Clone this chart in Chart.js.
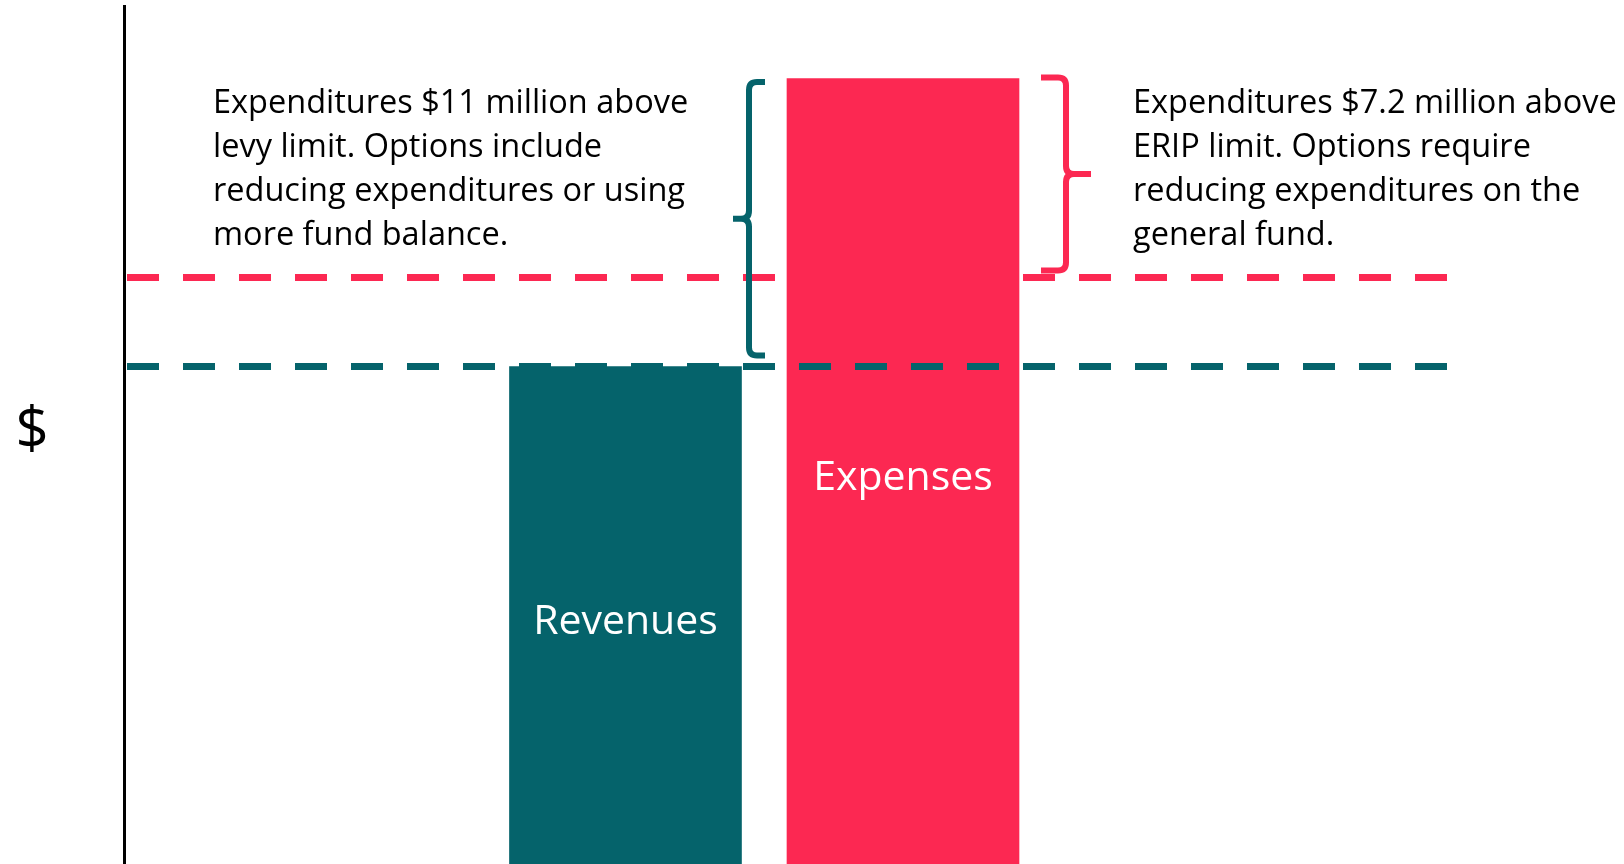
<!DOCTYPE html>
<html>
<head>
<meta charset="utf-8">
<script src="https://cdn.jsdelivr.net/npm/chart.js@4.4.1/dist/chart.umd.min.js"></script>
<style>
  html, body { margin: 0; padding: 0; background: #fff; }
  canvas { display: block; }
</style>
</head>
<body>
<canvas id="budgetChart" width="1624" height="864"></canvas>
<script>
// values in $ millions (schematic)
const categories = ["Revenues", "Expenses"];
const amounts = [19, 30];
const levyLimit = 19;
const eripLimit = 22.4;

const leftNote = [
  "Expenditures $11 million above",
  "levy limit. Options include",
  "reducing expenditures or using",
  "more fund balance.",
];
const rightNote = [
  "Expenditures $7.2 million above",
  "ERIP limit. Options require",
  "reducing expenditures on the",
  "general fund.",
];

const TEAL = "#05636B";
const RED = "#FC2852";
const FONT = '"Open Sans", "DejaVu Sans", sans-serif';

// x positions of the two bars on a plain linear axis
const positions = categories.map((c, i) => i + 1);
const xMin = -0.807;
const xMax = 4.598;
const limitEnd = 3.962;

function drawBrace(ctx, stemX, top, bottom, dir, arm, color) {
  // dir = -1 draws "{", dir = 1 draws "}"
  const mid = (top + bottom) / 2;
  const r = 8;
  const hookX = stemX - dir * arm;
  const tipX = stemX + dir * arm;
  ctx.save();
  ctx.strokeStyle = color;
  ctx.lineWidth = 6;
  ctx.lineCap = "butt";
  ctx.lineJoin = "round";
  ctx.beginPath();
  ctx.moveTo(hookX, top);
  ctx.lineTo(stemX - dir * r, top);
  ctx.quadraticCurveTo(stemX, top, stemX, top + r);
  ctx.lineTo(stemX, mid - r);
  ctx.quadraticCurveTo(stemX, mid, stemX + dir * r, mid);
  ctx.lineTo(tipX, mid);
  ctx.moveTo(stemX + dir * r, mid);
  ctx.quadraticCurveTo(stemX, mid, stemX, mid + r);
  ctx.lineTo(stemX, bottom - r);
  ctx.quadraticCurveTo(stemX, bottom, stemX - dir * r, bottom);
  ctx.lineTo(hookX, bottom);
  ctx.stroke();
  ctx.restore();
}

const notesPlugin = {
  id: "notes",
  afterDatasetsDraw(chart) {
    const ctx = chart.ctx;
    const y = chart.scales.y;
    // the bars are the third dataset
    const bars = chart.getDatasetMeta(2).data;

    // labels inside the bars
    ctx.save();
    ctx.fillStyle = "#fff";
    ctx.font = "41px " + FONT;
    ctx.textAlign = "center";
    ctx.textBaseline = "alphabetic";
    bars.forEach((bar, i) => {
      ctx.fillText(categories[i], bar.x, (bar.y + bar.base) / 2 + 19);
    });
    ctx.restore();

    // braces next to the expenses bar
    const exp = bars[1];
    const half = exp.width / 2;
    drawBrace(ctx, exp.x - half - 38, exp.y + 3.5, y.getPixelForValue(levyLimit) - 11, -1, 16, TEAL);
    drawBrace(ctx, exp.x + half + 47, exp.y - 1, y.getPixelForValue(eripLimit) - 7, 1, 25, RED);

    // notes
    ctx.save();
    ctx.fillStyle = "#000";
    ctx.font = "32.5px " + FONT;
    ctx.textAlign = "left";
    ctx.textBaseline = "alphabetic";
    leftNote.forEach((line, i) => ctx.fillText(line, 213, 113 + i * 44));
    rightNote.forEach((line, i) => ctx.fillText(line, 1133, 113 + i * 44));

    // axis title
    ctx.font = "58px " + FONT;
    ctx.textAlign = "center";
    ctx.textBaseline = "middle";
    ctx.fillText("$", 32, 432);
    ctx.restore();
  },
};

function renderChart() {
  const ctx = document.getElementById("budgetChart").getContext("2d");
  const config = {
    type: "bar",
    data: {
      datasets: [
        {
          type: "line",
          data: [{ x: xMin, y: levyLimit }, { x: limitEnd, y: levyLimit }],
          borderColor: TEAL,
          borderWidth: 7,
          borderDash: [32, 24],
          borderDashOffset: -3,
          borderCapStyle: "butt",
          pointRadius: 0,
          order: 0,
        },
        {
          type: "line",
          data: [{ x: xMin, y: eripLimit }, { x: limitEnd, y: eripLimit }],
          borderColor: RED,
          borderWidth: 7,
          borderDash: [32, 24],
          borderDashOffset: -3,
          borderCapStyle: "butt",
          pointRadius: 0,
          order: 2,
        },
        {
          data: positions.map((p, i) => ({ x: p, y: amounts[i] })),
          backgroundColor: [TEAL, RED],
          barThickness: 232,
          order: 1,
        },
      ],
    },
    options: {
      responsive: false,
      animation: false,
      events: [],
      layout: { padding: { top: 6, left: 0, right: 0, bottom: 0 } },
      plugins: {
        legend: { display: false },
        tooltip: { enabled: false },
      },
      scales: {
        x: {
          type: "linear",
          min: xMin,
          max: xMax,
          offset: false,
          display: false,
        },
        y: {
          min: 0,
          max: 32.77,
          grid: { display: false },
          ticks: { display: false },
          border: { display: true, color: "#000", width: 3 },
          afterFit(scale) {
            scale.width = 124;
          },
        },
      },
    },
    plugins: [notesPlugin],
  };
  return new Chart(ctx, config);
}

document.fonts.load('32px "Open Sans"').then(renderChart, renderChart);
</script>
</body>
</html>
